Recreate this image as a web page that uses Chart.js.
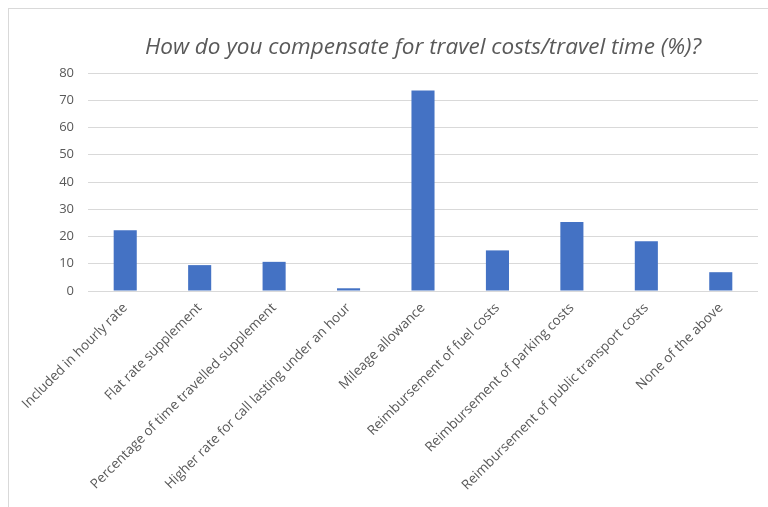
<!DOCTYPE html>
<html>
<head>
<meta charset="utf-8">
<script src="https://cdn.jsdelivr.net/npm/chart.js@4/dist/chart.umd.min.js"></script>
<style>
    html, body { margin: 0; padding: 0; background: #fff; overflow: hidden; }
    #frame {
        position: absolute; left: 8px; top: 8px; width: 800px; height: 540px;
        border-left: 1px solid #d9d9d9; border-top: 1px solid #d9d9d9;
    }
    #wrap { position: absolute; left: 0; top: 0; width: 768px; height: 507px; }
</style>
</head>
<body>
<div id="frame"></div>
<div id="wrap">
    <canvas id="travel-bar" width="768" height="507"></canvas>
</div>

<script>
    // survey answers, share of respondents in %
    const categories = [
        "Included in hourly rate",
        "Flat rate supplement",
        "Percentage of time travelled supplement",
        "Higher rate for call lasting under an hour",
        "Mileage allowance",
        "Reimbursement of fuel costs",
        "Reimbursement of parking costs",
        "Reimbursement of public transport costs",
        "None of the above"
    ];
    const percentages = [22.3, 9.5, 10.7, 1.0, 73.6, 14.9, 25.3, 18.3, 6.9];
    const yTicks = [0, 10, 20, 30, 40, 50, 60, 70, 80];

    const grey = "#595959";

    new Chart(document.getElementById("travel-bar"), {
        type: "bar",
        data: {
            labels: categories,
            datasets: [{
                label: "Percent",
                data: percentages,
                backgroundColor: "#4472c4",
                borderWidth: 0,
                barPercentage: 0.31,
                categoryPercentage: 1
            }]
        },
        options: {
            responsive: false,
            animation: false,
            layout: { padding: { left: 0, right: 10, top: 0, bottom: 0 } },
            plugins: {
                legend: { display: false },
                tooltip: { enabled: false },
                title: {
                    display: true,
                    fullSize: false,   // centred over the plot area only
                    text: "How do you compensate for travel costs/travel time (%)?",
                    color: grey,
                    font: { family: "Open Sans", size: 22.5, style: "italic", weight: "normal", lineHeight: 1.2 },
                    padding: { top: 34, bottom: 12 }
                }
            },
            scales: {
                x: {
                    grid: { display: false, drawTicks: false },
                    border: { display: false },
                    ticks: {
                        color: grey,
                        font: { family: "Open Sans", size: 13.5 },
                        minRotation: 45,
                        maxRotation: 45,
                        autoSkip: false,
                        padding: 9
                    },
                    afterFit: function (scale) { scale.height = 216; }
                },
                y: {
                    min: 0,
                    max: 80,
                    afterBuildTicks: function (scale) {
                        scale.ticks = yTicks.map(function (v) { return { value: v }; });
                    },
                    grid: { color: "#d9d9d9", lineWidth: 1, drawTicks: false },
                    border: { display: false },
                    ticks: {
                        color: grey,
                        font: { family: "Open Sans", size: 13 },
                        padding: 14
                    },
                    afterFit: function (scale) { scale.width = 88; }
                }
            }
        }
    });
</script>
</body>
</html>
